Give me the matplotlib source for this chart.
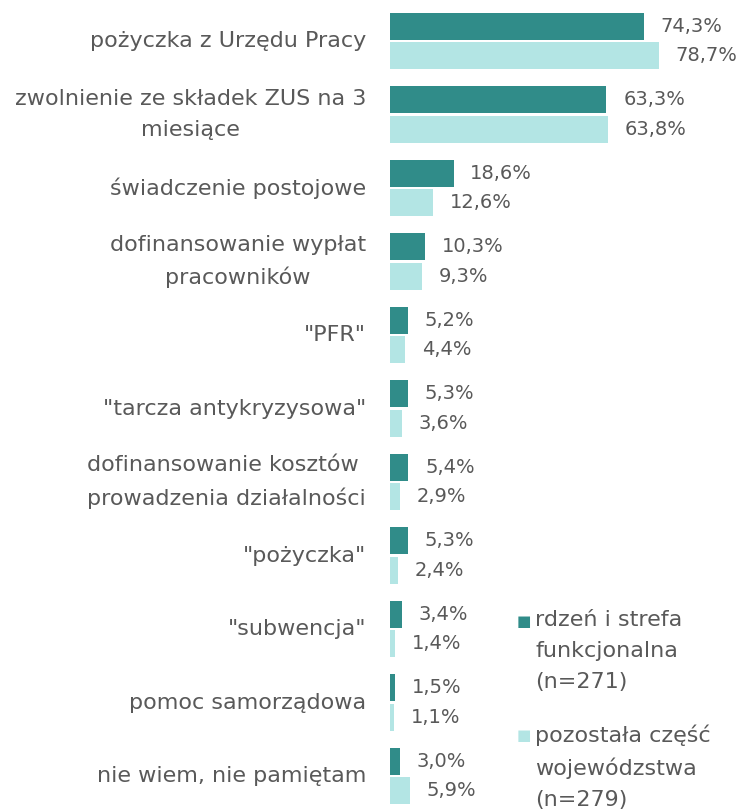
import matplotlib.pyplot as plt
import matplotlib.transforms as mtransforms
import numpy as np

categories = [
    "pożyczka z Urzędu Pracy",
    "zwolnienie ze składek ZUS na 3\nmiesiące",
    "świadczenie postojowe",
    "dofinansowanie wypłat\npracowników",
    "\"PFR\"",
    "\"tarcza antykryzysowa\"",
    "dofinansowanie kosztów \nprowadzenia działalności",
    "\"pożyczka\"",
    "\"subwencja\"",
    "pomoc samorządowa",
    "nie wiem, nie pamiętam",
]
core = [74.3, 63.3, 18.6, 10.3, 5.2, 5.3, 5.4, 5.3, 3.4, 1.5, 3.0]
rest = [78.7, 63.8, 12.6, 9.3, 4.4, 3.6, 2.9, 2.4, 1.4, 1.1, 5.9]
series_labels = ["rdzeń i strefa\nfunkcjonalna\n(n=271)",
                 "pozostała część\nwojewódzstwa\n(n=279)"]

dark = "#308c89"
light = "#b3e5e4"
grey = "#595959"
fs_val = 14
fs_cat = 16
ls = 1.7

W, H = 742, 811
fig = plt.figure(figsize=(W / 100, H / 100), dpi=100)
ax = fig.add_axes([390 / W, 0, 352 / W, 1])

y = np.arange(len(categories))
h = 0.367
ax.barh(y - 0.2, core, height=h, color=dark)
ax.barh(y + 0.2, rest, height=h, color=light)

ax.set_xlim(0, 352 / 3.42)
ax.set_ylim(10.476, -0.558)
ax.axis("off")

# value labels
for yi, v in zip(y - 0.2, core):
    ax.annotate(f"{v:.1f}%".replace(".", ","), (v, yi), xytext=(12, 0),
                textcoords="offset points", va="center", ha="left",
                fontsize=fs_val, color=grey)
for yi, v in zip(y + 0.2, rest):
    ax.annotate(f"{v:.1f}%".replace(".", ","), (v, yi), xytext=(12, 0),
                textcoords="offset points", va="center", ha="left",
                fontsize=fs_val, color=grey)

# category labels
trans = mtransforms.blended_transform_factory(fig.transFigure, ax.transData)
for yi, lab in zip(y, categories):
    ax.text(366 / W, yi, lab, transform=trans, ha="right", va="center",
            multialignment="center", fontsize=fs_cat, color=grey,
            linespacing=ls)

# legend
for ytop, col, lab in [(622, dark, series_labels[0]), (736, light, series_labels[1])]:
    fig.text(517 / W, 1 - ytop / H, "■", color=col, fontsize=11,
             ha="left", va="center")
    fig.text(535 / W, 1 - (ytop - 12) / H, lab, color=grey, fontsize=fs_cat,
             ha="left", va="top", linespacing=ls)

fig.savefig("out.png", dpi=100, facecolor="white")
